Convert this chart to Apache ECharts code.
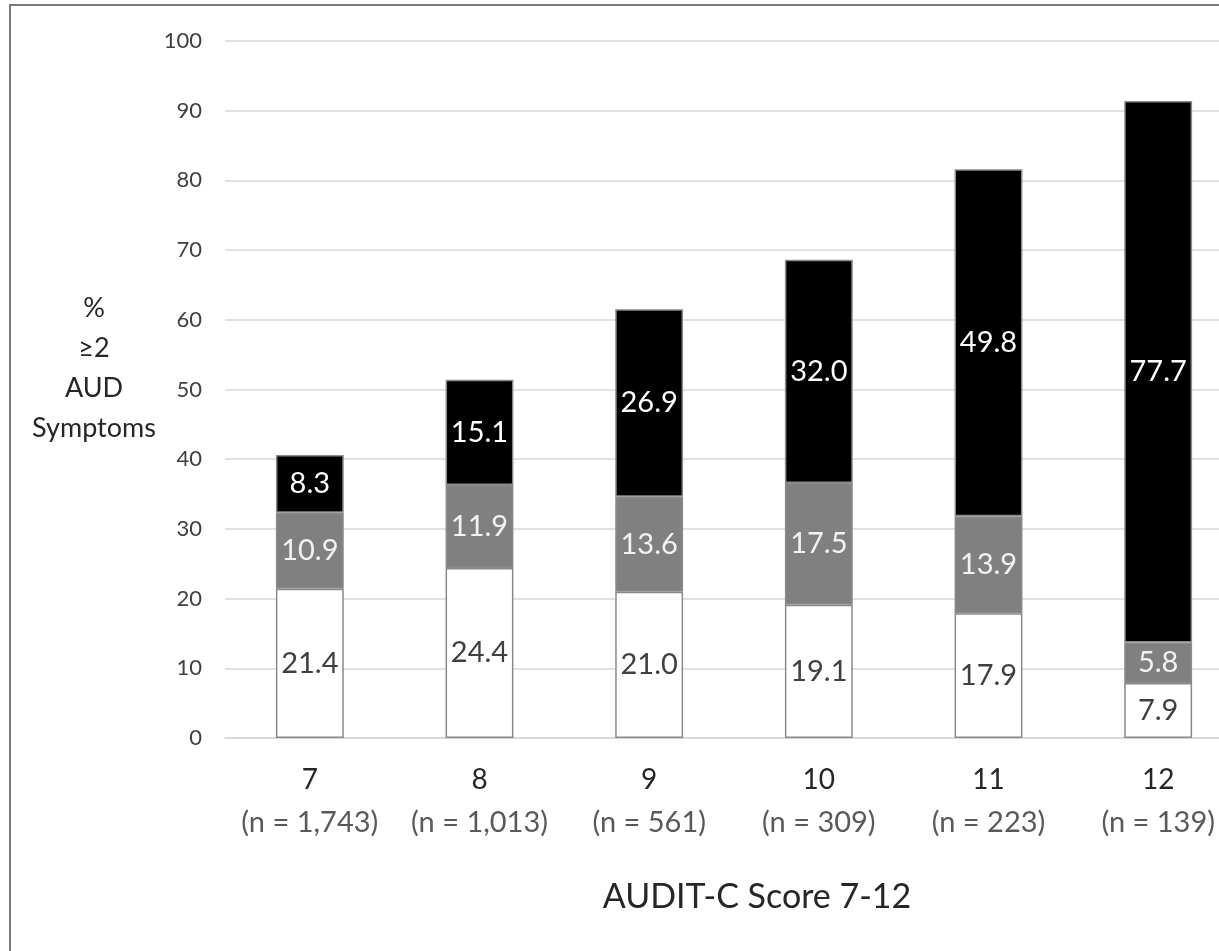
<!DOCTYPE html>
<html>
<head>
<meta charset="utf-8">
<style>
  html, body { margin: 0; padding: 0; background: #fff; overflow: hidden; }
  /* the drawing surface is a little wider than the window; its right edge is clipped */
  #chart { width: 1260px; height: 951px; }
</style>
<script src="https://cdn.jsdelivr.net/npm/echarts@6/dist/echarts.min.js"></script>
</head>
<body>
<div id="chart"></div>
<script>
// AUDIT-C scores and sample sizes
const scores = ['7', '8', '9', '10', '11', '12'];
const sampleSizes = ['1,743', '1,013', '561', '309', '223', '139'];

// Stacked percentages (bottom to top)
const lowerSegment = [21.4, 24.4, 21.0, 19.1, 17.9, 7.9];
const middleSegment = [10.9, 11.9, 13.6, 17.5, 13.9, 5.8];
const upperSegment = [8.3, 15.1, 26.9, 32.0, 49.8, 77.7];

const yTicks = { min: 0, max: 100, interval: 10 };
const yAxisTitle = '%\n≥2\nAUD\nSymptoms';
const xAxisTitle = 'AUDIT-C Score 7-12';

const FONT = 'Lato, "Open Sans", sans-serif';

const categories = scores.map((s, i) => s + '\n(n = ' + sampleSizes[i] + ')');

function seg(name, data, fill, labelColor) {
  return {
    name: name,
    type: 'bar',
    stack: 'total',
    barWidth: '40%',
    data: data,
    itemStyle: { color: fill, borderColor: '#8a8a8a', borderWidth: 1.5 },
    label: {
      show: true,
      position: 'inside',
      color: labelColor,
      fontFamily: FONT,
      fontSize: 29,
      formatter: p => p.value.toFixed(1)
    },
    emphasis: { disabled: true }
  };
}

const chart = echarts.init(document.getElementById('chart'), null, { renderer: 'canvas' });

chart.setOption({
  animation: false,
  backgroundColor: '#ffffff',
  grid: { left: 225, right: 17, top: 41, bottom: 213, containLabel: false },
  graphic: [{
    type: 'rect',
    shape: { x: 10, y: 5, width: 1400, height: 1200 },
    style: { fill: 'none', stroke: '#7a7a7a', lineWidth: 2 },
    silent: true
  }, {
    type: 'text',
    x: 94,
    y: 368,
    silent: true,
    style: {
      text: yAxisTitle,
      align: 'center',
      verticalAlign: 'middle',
      lineHeight: 40,
      fontFamily: FONT,
      fontSize: 27,
      fill: '#262626'
    }
  }],
  xAxis: {
    type: 'category',
    data: categories,
    axisLine: { show: true, lineStyle: { color: '#d6d6d6', width: 1.5 } },
    axisTick: { show: false },
    axisLabel: {
      margin: 20,
      interval: 0,
      formatter: function (v) {
        const parts = v.split('\n');
        return '{a|' + parts[0] + '}\n{b|' + parts[1] + '}';
      },
      rich: {
        a: { fontFamily: FONT, fontSize: 28, color: '#262626', lineHeight: 43 },
        b: { fontFamily: FONT, fontSize: 29, color: '#595959', lineHeight: 43 }
      }
    },
    name: xAxisTitle,
    nameLocation: 'middle',
    nameGap: 159,
    nameTextStyle: {
      fontFamily: FONT, fontSize: 34, color: '#262626',
      align: 'center', verticalAlign: 'middle', padding: [0, 0, 0, 46]
    }
  },
  yAxis: {
    type: 'value',
    min: yTicks.min,
    max: yTicks.max,
    interval: yTicks.interval,
    axisLine: { show: false },
    axisTick: { show: false },
    axisLabel: { margin: 23, fontFamily: FONT, fontSize: 22, color: '#404040' },
    splitLine: { lineStyle: { color: '#d9d9d9', width: 1.5 } }
  },
  series: [
    seg('lower', lowerSegment, '#ffffff', '#404040'),
    seg('middle', middleSegment, '#808080', '#f2f2f2'),
    seg('upper', upperSegment, '#000000', '#ffffff')
  ]
});
</script>
</body>
</html>
